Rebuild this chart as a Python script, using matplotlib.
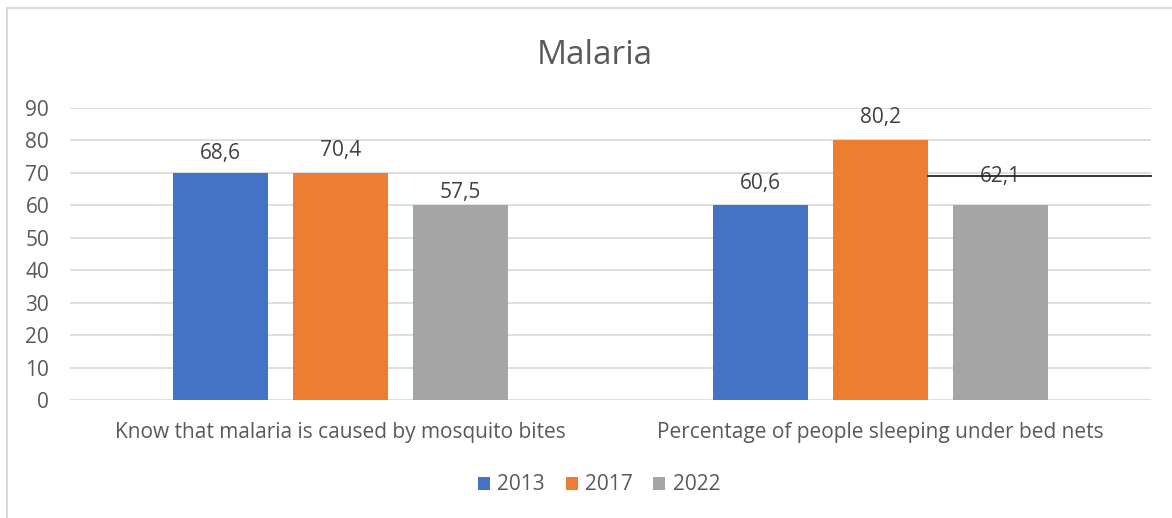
import matplotlib
matplotlib.use("Agg")
import matplotlib.pyplot as plt
from matplotlib.patches import Rectangle
import numpy as np

categories = ["Know that malaria is caused by mosquito bites",
              "Percentage of people sleeping under bed nets"]
series = ["2013", "2017", "2022"]
bar_heights = {"2013": [70, 60], "2017": [70, 80], "2022": [60, 60]}
label_texts = {"2013": ["68,6", "60,6"], "2017": ["70,4", "80,2"], "2022": ["57,5", "62,1"]}
colors = {"2013": "#4472C4", "2017": "#ED7D31", "2022": "#A5A5A5"}
ref_line_value = 69
yticks = list(range(0, 100, 10))

# label vertical offsets above bar tops (style, in data units)
label_offsets = {"2013": [6.1, 6.6], "2017": [7.0, 7.2], "2022": [4.1, 9.0]}

plt.rcParams['font.family'] = ['Open Sans', 'DejaVu Sans']
txt = "#595959"
fs = 15

fig = plt.figure(figsize=(11.72, 5.18), dpi=100)
W, H = 1172, 518
ax = fig.add_axes([70 / W, 1 - 400 / H, (1151 - 70) / W, (400 - 108) / H])

x = np.arange(len(categories))
bw = 0.176
step = bw + 0.046
for i, s in enumerate(series):
    xs = x + (i - 1) * step
    ax.bar(xs, bar_heights[s], width=bw, color=colors[s], label=s, zorder=3)
    for xi, h, t, off in zip(xs, bar_heights[s], label_texts[s], label_offsets[s]):
        ax.text(xi, h + off, t, ha='center', va='center', fontsize=fs, color="#404040", zorder=4)

# black reference line starting at right edge of 2017 bar in group 2
x_start = x[1] + bw / 2
ax.plot([x_start, 1.5], [ref_line_value, ref_line_value], color="#262626", lw=1.3, zorder=5,
        clip_on=False)

ax.set_xlim(-0.5, 1.5)
ax.set_ylim(0, 90)
ax.set_yticks(yticks)
ax.set_yticklabels([str(v) for v in yticks], fontsize=fs, color=txt)
ax.set_xticks(x)
ax.set_xticklabels(categories, fontsize=fs, color=txt)
ax.tick_params(axis='both', length=0)
ax.tick_params(axis='y', pad=15)
ax.tick_params(axis='x', pad=16)
ax.grid(axis='y', color="#D9D9D9", lw=1.2, zorder=0)
for sp in ax.spines.values():
    sp.set_visible(False)

fig.text(595 / W, 1 - 55 / H, "Malaria", ha='center', va='center', fontsize=24, color=txt)

leg = fig.legend(loc='center', bbox_to_anchor=(599 / W, 1 - 485 / H), ncol=3, frameon=False,
                 fontsize=fs, handlelength=0.58, handleheight=0.58, handletextpad=0.34,
                 columnspacing=1.0)
for t in leg.get_texts():
    t.set_color(txt)

fig.patches.append(Rectangle((6.5 / W, -0.1), 1.2, 1.1 - 8.5 / H, transform=fig.transFigure,
                             fill=False, edgecolor="#D9D9D9", lw=1.5))

fig.savefig("out.png", dpi=100)
